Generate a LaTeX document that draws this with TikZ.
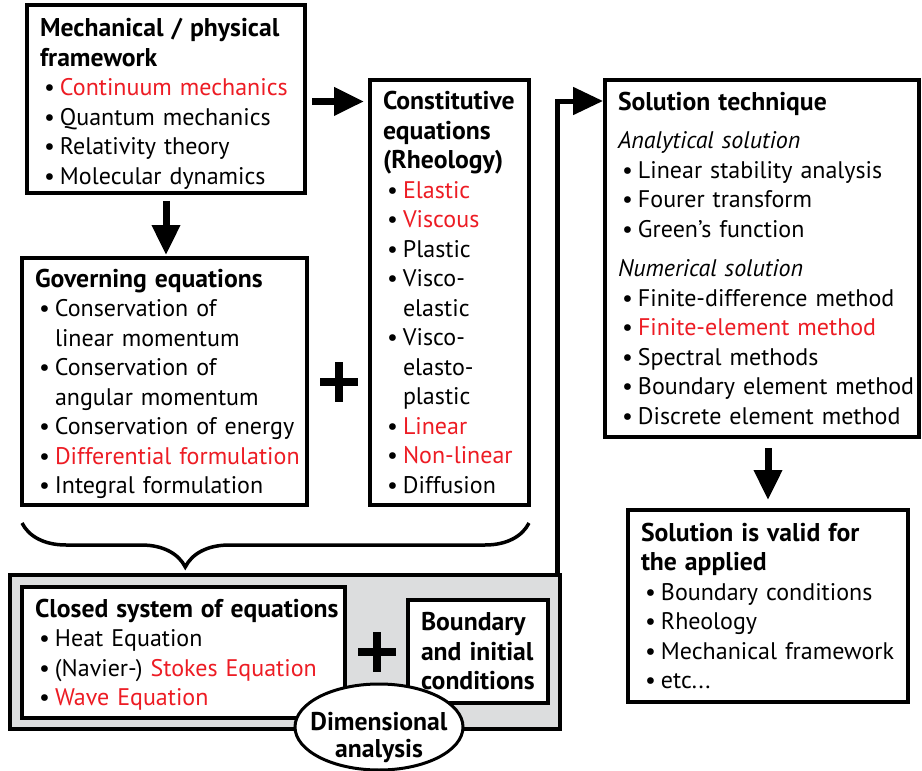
\documentclass[tikz,border=0pt]{standalone}
\usepackage{fontspec}
\setmainfont{PT Sans}[BoldFeatures={Scale=1.07}]
\usetikzlibrary{arrows.meta,decorations.pathreplacing,shapes.geometric,positioning}
\definecolor{hlred}{RGB}{237,28,36}
\definecolor{panelgrey}{RGB}{220,221,222}
\newcommand{\hl}[1]{\textcolor{hlred}{#1}}
\newcommand{\bul}{\makebox[20pt][l]{\hspace{4pt}\textbullet}}
\newcommand{\ind}{\hspace*{20pt}}
\newcommand{\lines}[2][26.6pt]{\begin{tabular}{@{}l@{}}\rule{0pt}{#1}#2\end{tabular}}
\tikzset{
  % framed text box, anchored at its top left corner: width, height, text width
  tbox/.style n args={3}{rectangle, draw=black, line width=3.5pt, fill=white, anchor=north west,
    outer sep=0pt, inner xsep=13pt, inner ysep=0pt, minimum width=#1pt, minimum height=#2pt,
    text width=#3pt, font=\fontsize{24}{29.5}\selectfont},
  % grey panel behind the closed system
  panel/.style={rectangle, draw=black, line width=3.5pt, fill=panelgrey, anchor=north west,
    outer sep=0pt, inner sep=0pt},
  % oval frame and its label
  ovalbox/.style={ellipse, draw=black, line width=3pt, fill=white, inner sep=0pt,
    minimum width=168pt, minimum height=86pt},
  ovaltext/.style={inner sep=0pt, align=center, font=\fontsize{24}{27}\selectfont\bfseries},
  % plus sign
  plusmark/.pic={\draw[line width=7.3pt] (-19,0) -- (19,0) (0,-20) -- (0,20);},
  % thick block arrow
  bigarrow/.style={line width=#1, -{Triangle[length=30pt,width=27pt]}},
  bigarrow/.default={7pt},
  % curly brace
  curly/.style={line width=3.5pt, decorate,
    decoration={brace, mirror, amplitude=44pt, aspect=0.322}},
}

\begin{document}
\begin{tikzpicture}[x=1pt, y=-1pt]
  \useasboundingbox (0,0) rectangle (922,771);

  % Mechanical framework
  \node[tbox={278}{187}{252}] (mech) at (27,5) {\lines[31.6pt]{\textbf{Mechanical / physical}\\
    \textbf{framework}\\
    \bul\hl{Continuum mechanics}\\
    \bul Quantum mechanics\\
    \bul Relativity theory\\
    \bul Molecular dynamics}};

  % Governing equations
  \node[tbox={285}{247}{259}] (gov) at (22,258) {\lines{\textbf{Governing equations}\\
    \bul Conservation of\\
    \ind linear momentum\\
    \bul Conservation of\\
    \ind angular momentum\\
    \bul Conservation of energy\\
    \bul\hl{Differential formulation}\\
    \bul Integral formulation}};

  % Constitutive equations
  \node[tbox={159}{425}{133}] (const) at (370,80) {\lines{\textbf{Constitutive}\\
    \textbf{equations}\\
    \textbf{(Rheology)}\\
    \bul\hl{Elastic}\\
    \bul\hl{Viscous}\\
    \bul Plastic\\
    \bul Visco-\\
    \ind elastic\\
    \bul Visco-\\
    \ind elasto-\\
    \ind plastic\\
    \bul\hl{Linear}\\
    \bul\hl{Non-linear}\\
    \bul Diffusion}};

  \pic (plusA) at (339,382) {plusmark};

  % Solution technique
  \node[tbox={314}{357}{288}] (sol) at (605,80) {\lines{\textbf{Solution technique}\\[9pt]
    \textit{Analytical solution}\\
    \bul Linear stability analysis\\
    \bul Fourer transform\\
    \bul Green’s function\\[10pt]
    \textit{Numerical solution}\\
    \bul Finite-difference method\\
    \bul\hl{Finite-element method}\\
    \bul Spectral methods\\
    \bul Boundary element method\\
    \bul Discrete element method}};

  % Validity
  \node[tbox={280}{192}{254}] (valid) at (628,510) {\lines{\textbf{Solution is valid for}\\
    \textbf{the applied}\\
    \bul Boundary conditions\\
    \bul Rheology\\
    \bul Mechanical framework\\
    \bul etc...}};

  % brace and closed system
  \draw[curly] ([yshift=-18pt]gov.south west) -- ([yshift=-18pt]const.south east);
  \node[panel, minimum width=550pt, minimum height=154pt] (grey) at (10,575) {};
  \node[tbox={323}{131}{297}] (closed) at (22,587) {\lines{\textbf{Closed system of equations}\\
    \bul Heat Equation\\
    \bul (Navier-) \hl{Stokes Equation}\\
    \bul\hl{Wave Equation}}};
  \pic (plusB) at (377,652) {plusmark};
  \node[tbox={140}{103}{114}] (bound) at (408,600) {\lines{\textbf{Boundary}\\
    \textbf{and initial}\\
    \textbf{conditions}}};
  \node[ovalbox] (dim) at (379,727) {};
  \node[ovaltext] (dimtext) at (379,737) {Dimensional\\analysis};

  % arrows
  \draw[bigarrow, shorten <=8pt, shorten >=3pt] (mech.south) -- (mech.south |- gov.north);
  \draw[bigarrow, shorten <=7pt, shorten >=6pt] ([yshift=-2.5pt]mech.east) -- ([yshift=-2.5pt]mech.east -| const.west);
  \draw[bigarrow, shorten <=11pt, shorten >=10pt] (valid.north |- sol.south) -- (valid.north);
  \draw[bigarrow=5pt, shorten >=2pt] ([xshift=-3pt]grey.north east) |- ([yshift=-21pt]sol.north west);
\end{tikzpicture}
\end{document}
